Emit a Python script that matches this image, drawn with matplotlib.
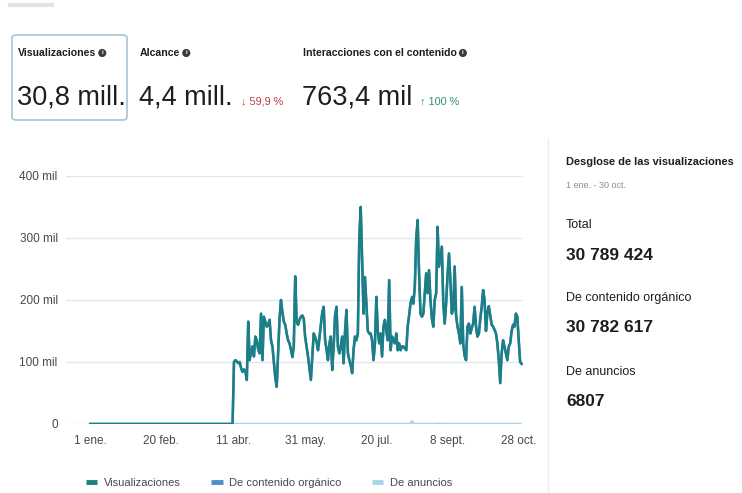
import numpy as np
import pandas as pd
import matplotlib
matplotlib.use('Agg')
import matplotlib.pyplot as plt
import matplotlib.patches as patches
from matplotlib.lines import Line2D

plt.rcParams['font.family'] = ['Liberation Sans', 'DejaVu Sans']

# datos (miles de visualizaciones por día)
fecha_inicio = '2024-01-01'
fecha_fin = '2024-10-30'
fecha_primer_dato = '2024-04-11'
vistas_abr_oct = [
    100, 103, 101, 98, 100, 90, 84, 88, 85, 71, 165, 103, 118, 125, 109, 141, 135, 120, 114, 178,
    103, 173, 165, 157, 160, 168, 135, 125, 100, 75, 60, 114, 170, 200, 180, 165, 160, 146, 135, 130,
    120, 108, 125, 238, 165, 160, 168, 173, 175, 170, 140, 125, 109, 90, 71, 110, 146, 140, 133, 119,
    138, 160, 180, 189, 135, 120, 103, 130, 141, 87, 125, 175, 189, 125, 114, 125, 141, 98, 150, 184,
    114, 103, 95, 82, 120, 141, 135, 146, 300, 350, 264, 178, 237, 195, 150, 146, 146, 135, 103, 130,
    205, 150, 130, 146, 109, 157, 168, 150, 135, 232, 119, 141, 135, 130, 146, 119, 130, 119, 125, 125,
    122, 119, 157, 175, 195, 205, 195, 221, 300, 329, 243, 178, 173, 178, 210, 243, 211, 248, 200, 170,
    157, 200, 211, 318, 254, 270, 286, 195, 162, 195, 240, 275, 232, 178, 184, 254, 175, 157, 146, 130,
    221, 130, 110, 103, 157, 162, 146, 155, 162, 189, 157, 141, 146, 170, 189, 216, 200, 150, 180, 190,
    175, 160, 157, 152, 146, 130, 103, 66, 114, 135, 125, 114, 103, 125, 130, 150, 160, 157, 178, 173,
    135, 100, 97,
]
anuncios_picos = {'2024-08-14': 4.6, '2024-08-15': 1.5, '2024-09-02': 0.7}

tick_fechas = ['2024-01-01', '2024-02-20', '2024-04-11', '2024-05-31', '2024-07-20', '2024-09-08', '2024-10-28']
tick_textos = ['1 ene.', '20 feb.', '11 abr.', '31 may.', '20 jul.', '8 sept.', '28 oct.']
y_ticks = [0, 100, 200, 300, 400]
y_textos = ['0', '100 mil', '200 mil', '300 mil', '400 mil']

fechas = pd.date_range(fecha_inicio, fecha_fin, freq='D')
vistas = pd.Series(0.0, index=fechas)
vistas.loc[fecha_primer_dato:] = vistas_abr_oct
anuncios = pd.Series(0.0, index=fechas)
for f, v in anuncios_picos.items():
    anuncios[f] = v
organico = vistas - anuncios

W, H = 742, 493
fig = plt.figure(figsize=(W / 100, H / 100), dpi=100)
fig.patch.set_facecolor('white')


def fx(px):
    return px / W


def fy(py):
    return 1 - py / H


texto = '#1c1e21'
gris = '#444950'
teal = '#1b7f85'
azul = '#4b8fca'
celeste = '#a9d5ea'

# barra gris de arriba (texto cortado)
fig.add_artist(Line2D([fx(10), fx(52)], [fy(5), fy(5)], color='#e2e4e7', lw=3))

# tarjeta seleccionada
fig.add_artist(patches.FancyBboxPatch((fx(12), fy(120)), fx(127) - fx(12), fy(35) - fy(120),
                                      boxstyle='round,pad=0,rounding_size=0.006',
                                      transform=fig.transFigure, fc='white', ec='#a8c4d6', lw=1.2))


def info(px, py):
    fig.text(fx(px), fy(py), 'i', color='white', fontsize=4.5, fontweight='bold',
             ha='center', va='center',
             bbox=dict(boxstyle='circle,pad=0.25', fc='#3a3b3c', ec='none'))


metricas = [
    (18, 'Visualizaciones', '30,8 mill.', None, None),
    (140, 'Alcance', '4,4 mill.', '↓ 59,9 %', '#c0394a'),
    (303, 'Interacciones con el contenido', '763,4 mil', '↑ 100 %', '#31906b'),
]
for px, titulo, valor, delta, col in metricas:
    t = fig.text(fx(px), fy(53), titulo, fontsize=7.6, fontweight='bold', color=texto, va='center')
    fig.canvas.draw()
    bb = t.get_window_extent()
    info(bb.x1 + 6, 53)
    v = fig.text(fx(px - 1), fy(105), valor, fontsize=19.5, color=texto, va='baseline')
    if delta:
        fig.canvas.draw()
        bb = v.get_window_extent()
        fig.text(fx(bb.x1 + 8), fy(104), delta, fontsize=7.8, color=col, va='baseline',
                 family=['Liberation Sans', 'DejaVu Sans'])

# gráfico
ax = fig.add_axes([fx(66), fy(424), fx(523) - fx(66), fy(176) - fy(424)])
ax.plot(anuncios.index, anuncios.values, color=celeste, lw=1.8, solid_capstyle='butt')
ax.plot(organico.index, organico.values, color=azul, lw=1.8)
ax.plot(vistas.index, vistas.values, color=teal, lw=1.8)

ax.set_ylim(0, 400)
ax.set_xlim(pd.Timestamp('2023-12-15'), pd.Timestamp('2024-10-31'))
ax.set_yticks(y_ticks)
ax.set_yticklabels(y_textos)
ax.set_xticks(pd.to_datetime(tick_fechas))
ax.set_xticklabels(tick_textos)
ax.grid(axis='y', color='#e4e6eb', lw=1)
ax.set_axisbelow(True)
for s in ax.spines.values():
    s.set_visible(False)
ax.tick_params(length=0, labelsize=8.5, colors=gris, pad=6)
ax.tick_params(axis='x', pad=8)

handles = [Line2D([], [], color=teal, lw=3.5, solid_capstyle='butt'),
           Line2D([], [], color=azul, lw=3.5, solid_capstyle='butt'),
           Line2D([], [], color=celeste, lw=3.5, solid_capstyle='butt')]
fig.legend(handles, ['Visualizaciones', 'De contenido orgánico', 'De anuncios'],
           loc='center', bbox_to_anchor=(fx(269), fy(483)), ncol=3, frameon=False,
           fontsize=8, handlelength=1.05, columnspacing=2.7, handletextpad=0.6,
           labelcolor=gris)

# panel derecho
fig.add_artist(Line2D([fx(548), fx(548)], [fy(138), fy(493)], color='#eceef1', lw=1))
fig.text(fx(566), fy(162), 'Desglose de las visualizaciones', fontsize=7.9, fontweight='bold',
         color=texto, va='center')
fig.text(fx(566), fy(185), '1 ene. - 30 oct.', fontsize=6.5, color='#8a8d91', va='center')
filas = [('Total', '30 789 424', 225), ('De contenido orgánico', '30 782 617', 298),
         ('De anuncios', '6807', 372)]
for etiqueta, numero, py in filas:
    fig.text(fx(566), fy(py), etiqueta, fontsize=9, color=texto, va='center')
    fig.text(fx(566), fy(py + 30), numero, fontsize=12.5, fontweight='bold', color=texto, va='center')

fig.savefig('out.png', dpi=100, facecolor='white')
